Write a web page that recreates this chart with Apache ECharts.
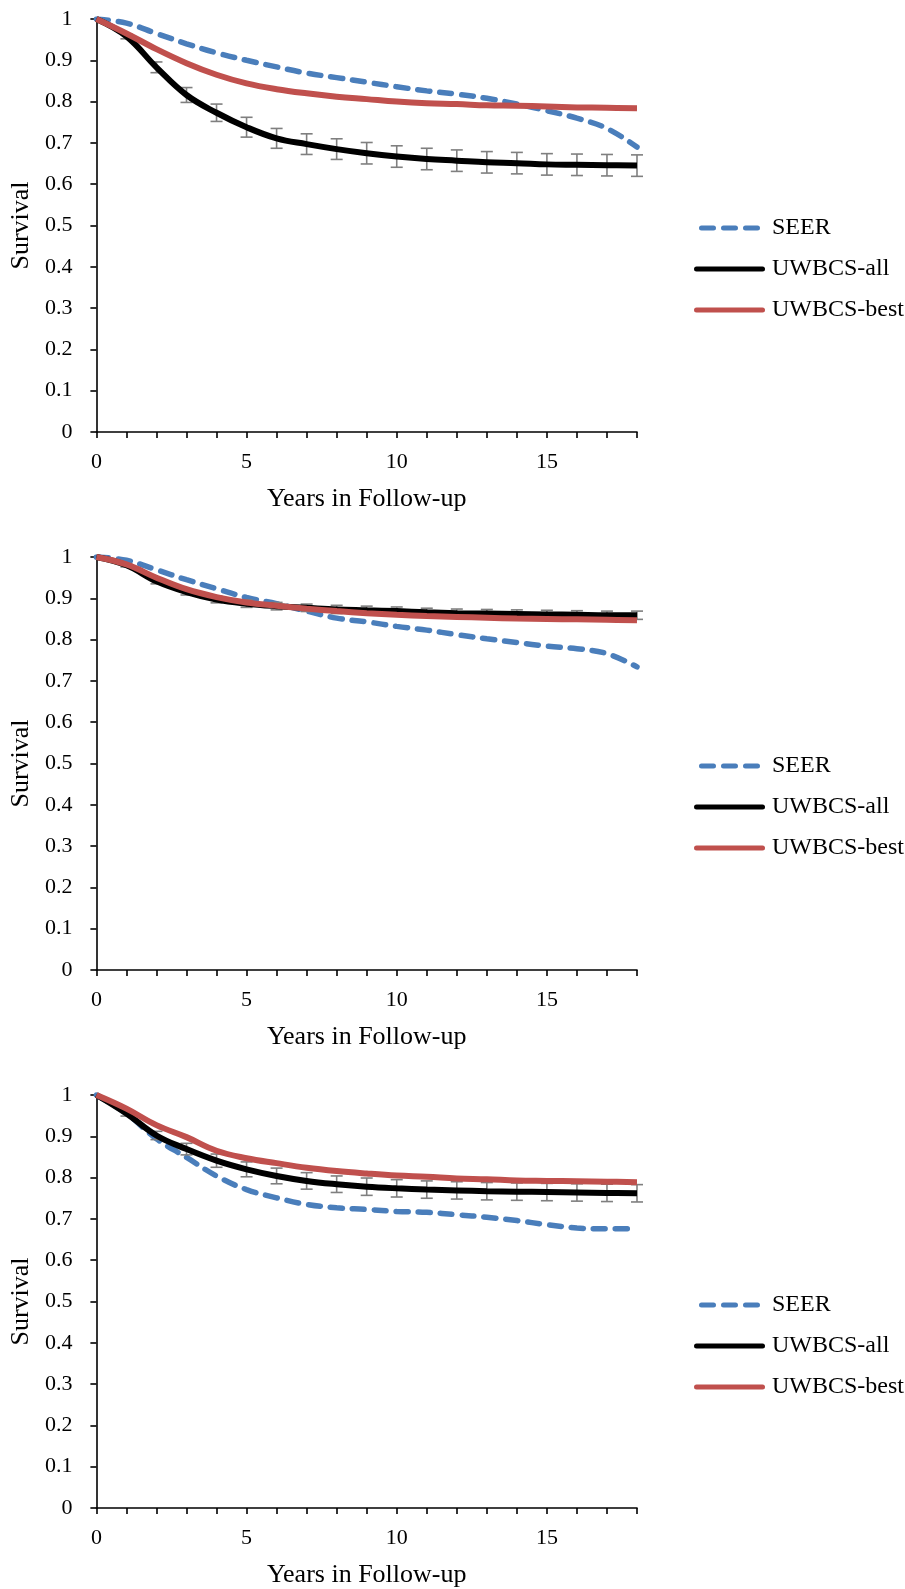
<!DOCTYPE html>
<html>
<head>
<meta charset="utf-8">
<script src="https://cdn.jsdelivr.net/npm/echarts@6/dist/echarts.min.js"></script>
<style>
  html, body { margin: 0; padding: 0; background: #fff; }
  #chart { width: 905px; height: 1589px; }
</style>
</head>
<body>
<div id="chart"></div>
<script>
// Follow-up years (x values shared by all three panels)
const years = [0, 1, 2, 3, 4, 5, 6, 7, 8, 9, 10, 11, 12, 13, 14, 15, 16, 17, 18];
const xLabelYears = [0, 5, 10, 15];
const seriesNames = ['SEER', 'UWBCS-all', 'UWBCS-best'];

// Panel 1
const seer1 = [1.000, 0.990, 0.965, 0.940, 0.918, 0.900, 0.884, 0.869, 0.858, 0.847, 0.836, 0.826, 0.818, 0.808, 0.794, 0.778, 0.760, 0.735, 0.690];
const all1  = [1.000, 0.958, 0.883, 0.816, 0.773, 0.738, 0.711, 0.697, 0.685, 0.675, 0.667, 0.661, 0.657, 0.653, 0.651, 0.648, 0.647, 0.646, 0.645];
const err1  = [0, 0.006, 0.013, 0.018, 0.021, 0.024, 0.024, 0.025, 0.025, 0.026, 0.026, 0.026, 0.026, 0.026, 0.026, 0.026, 0.026, 0.026, 0.026];
const best1 = [1.000, 0.965, 0.927, 0.893, 0.865, 0.844, 0.830, 0.820, 0.812, 0.806, 0.800, 0.796, 0.794, 0.791, 0.790, 0.788, 0.786, 0.785, 0.784];

// Panel 2
const seer2 = [1.000, 0.992, 0.969, 0.945, 0.923, 0.902, 0.887, 0.869, 0.852, 0.843, 0.832, 0.823, 0.812, 0.802, 0.793, 0.784, 0.778, 0.766, 0.734];
const all2  = [1.000, 0.980, 0.941, 0.915, 0.897, 0.887, 0.881, 0.877, 0.873, 0.871, 0.869, 0.866, 0.864, 0.863, 0.862, 0.861, 0.860, 0.859, 0.859];
const err2  = [0, 0.004, 0.006, 0.007, 0.008, 0.009, 0.009, 0.009, 0.010, 0.010, 0.010, 0.010, 0.010, 0.010, 0.010, 0.010, 0.010, 0.010, 0.010];
const best2 = [1.000, 0.982, 0.950, 0.922, 0.903, 0.890, 0.882, 0.875, 0.869, 0.864, 0.860, 0.857, 0.855, 0.853, 0.851, 0.850, 0.849, 0.848, 0.847];

// Panel 3
const seer3 = [1.000, 0.955, 0.894, 0.849, 0.804, 0.771, 0.751, 0.735, 0.727, 0.723, 0.718, 0.716, 0.710, 0.704, 0.696, 0.686, 0.678, 0.676, 0.676];
const all3  = [1.000, 0.955, 0.902, 0.869, 0.841, 0.820, 0.804, 0.792, 0.784, 0.778, 0.774, 0.771, 0.769, 0.767, 0.766, 0.765, 0.764, 0.763, 0.762];
const err3  = [0, 0.006, 0.010, 0.014, 0.016, 0.018, 0.019, 0.020, 0.020, 0.021, 0.021, 0.021, 0.021, 0.021, 0.021, 0.021, 0.021, 0.021, 0.021];
const best3 = [1.000, 0.967, 0.927, 0.898, 0.865, 0.847, 0.835, 0.824, 0.816, 0.810, 0.805, 0.802, 0.798, 0.796, 0.793, 0.792, 0.791, 0.790, 0.789];

const FONT = '"Liberation Serif", "Times New Roman", serif';
const BLUE = '#4A7EBB';
const RED = '#C0504D';
const BLACK = '#000000';
const ERR_GREY = '#7F7F7F';

// Legend icons: three rounded dashes for SEER, a rounded bar for the solid lines
const ICON_DASHED = 'path://M2.5,0h12a2.5,2.5 0 0 1 0,5h-12a2.5,2.5 0 0 1 0,-5z' +
  'M24.5,0h12a2.5,2.5 0 0 1 0,5h-12a2.5,2.5 0 0 1 0,-5z' +
  'M46.5,0h12a2.5,2.5 0 0 1 0,5h-12a2.5,2.5 0 0 1 0,-5z';
const ICON_SOLID = 'path://M2.5,0h66a2.5,2.5 0 0 1 0,5h-66a2.5,2.5 0 0 1 0,-5z';

const panels = [
  { seer: seer1, all: all1, err: err1, best: best1, top: 19,   height: 413, legendTop: 211 },
  { seer: seer2, all: all2, err: err2, best: best2, top: 557,  height: 413, legendTop: 749 },
  { seer: seer3, all: all3, err: err3, best: best3, top: 1095, height: 414, legendTop: 1288 }
];

const pairs = (vals) => years.map((x, i) => [x, vals[i]]);

// Vertical error bar with short horizontal caps
function renderErrorBar(params, api) {
  const x = api.value(0);
  const hi = api.coord([x, api.value(2)]);
  const lo = api.coord([x, api.value(1)]);
  const cap = 6;
  const style = { stroke: ERR_GREY, lineWidth: 1.6, fill: null };
  return {
    type: 'group',
    children: [
      { type: 'line', shape: { x1: hi[0], y1: hi[1], x2: lo[0], y2: lo[1] }, style },
      { type: 'line', shape: { x1: hi[0] - cap, y1: hi[1], x2: hi[0] + cap, y2: hi[1] }, style },
      { type: 'line', shape: { x1: lo[0] - cap, y1: lo[1], x2: lo[0] + cap, y2: lo[1] }, style }
    ]
  };
}

const grid = [], xAxis = [], yAxis = [], series = [], legend = [];

panels.forEach((p, i) => {
  grid.push({ left: 95, width: 542, top: p.top, height: p.height, containLabel: false });

  xAxis.push({
    type: 'value', gridIndex: i, min: 0, max: 18, interval: 1,
    name: 'Years in Follow-up', nameLocation: 'middle', nameGap: 54,
    nameTextStyle: { fontFamily: FONT, fontSize: 26, color: '#000' },
    axisLine: { show: true, lineStyle: { color: '#000', width: 1.6 } },
    axisTick: { show: true, inside: false, length: 6, lineStyle: { color: '#000', width: 1.6 } },
    axisLabel: {
      fontFamily: FONT, fontSize: 22, color: '#000', margin: 19,
      formatter: (v) => (xLabelYears.indexOf(v) >= 0 ? String(v) : '')
    },
    splitLine: { show: false }
  });

  yAxis.push({
    type: 'value', gridIndex: i, min: 0, max: 1, interval: 0.1,
    name: 'Survival', nameLocation: 'middle', nameGap: 56, nameRotate: 90,
    nameTextStyle: { fontFamily: FONT, fontSize: 26, color: '#000' },
    axisLine: { show: true, lineStyle: { color: '#000', width: 1.6 } },
    axisTick: { show: true, inside: false, length: 6, lineStyle: { color: '#000', width: 1.6 } },
    axisLabel: {
      fontFamily: FONT, fontSize: 22, color: '#000', margin: 24,
      formatter: (v) => String(Math.round(v * 10) / 10)
    },
    splitLine: { show: false }
  });

  series.push({
    name: 'SEER', type: 'line', xAxisIndex: i, yAxisIndex: i,
    data: pairs(p.seer), smooth: 0.4, symbol: 'none',
    lineStyle: { color: BLUE, width: 5.5, type: [12, 10], cap: 'round' },
    itemStyle: { color: BLUE }, z: 2
  });
  series.push({
    name: 'UWBCS-all error', type: 'custom', xAxisIndex: i, yAxisIndex: i,
    data: years.map((x, k) => [x, p.all[k] - p.err[k], p.all[k] + p.err[k]]).filter((d, k) => p.err[k] > 0),
    renderItem: renderErrorBar, z: 3, silent: true
  });
  series.push({
    name: 'UWBCS-all', type: 'line', xAxisIndex: i, yAxisIndex: i,
    data: pairs(p.all), smooth: 0.4, symbol: 'none',
    lineStyle: { color: BLACK, width: 6 }, itemStyle: { color: BLACK }, z: 4
  });
  series.push({
    name: 'UWBCS-best', type: 'line', xAxisIndex: i, yAxisIndex: i,
    data: pairs(p.best), smooth: 0.4, symbol: 'none',
    lineStyle: { color: RED, width: 6 }, itemStyle: { color: RED }, z: 5
  });

  legend.push({
    data: [
      { name: seriesNames[0], icon: ICON_DASHED },
      { name: seriesNames[1], icon: ICON_SOLID },
      { name: seriesNames[2], icon: ICON_SOLID }
    ],
    orient: 'vertical', left: 689, top: p.legendTop,
    itemWidth: 71, itemHeight: 5, itemGap: 17, selectedMode: false,
    textStyle: { fontFamily: FONT, fontSize: 24, color: '#000', padding: [0, 0, 0, 2] }
  });
});

const chart = echarts.init(document.getElementById('chart'), null, { renderer: 'canvas' });
chart.setOption({
  animation: false,
  backgroundColor: '#fff',
  grid, xAxis, yAxis, series, legend
});
</script>
</body>
</html>
